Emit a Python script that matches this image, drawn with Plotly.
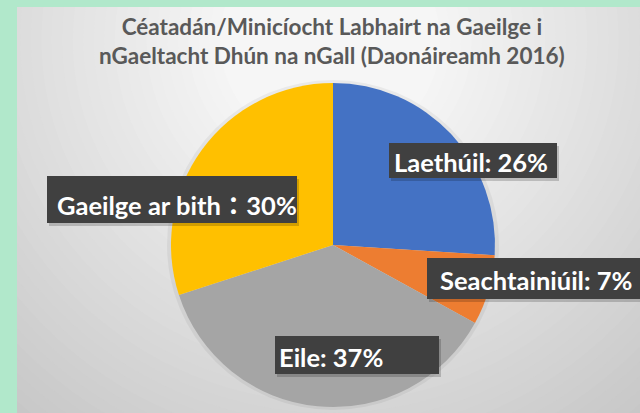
import plotly.graph_objects as go

# data
labels = ["Laethúil", "Seachtainiúil", "Eile", "Gaeilge ar bith"]
values = [26, 7, 37, 30]
colors = ["#4472C4", "#ED7D31", "#A5A5A5", "#FFC000"]
title_lines = ["Céatadán/Minicíocht Labhairt na Gaeilge i",
               "nGaeltacht Dhún na nGall (Daonáireamh 2016)"]

W, H = 640, 413
GREEN = "#B1E8CB"


def px(x):
    return min(x, W) / W


def py(y):
    return 1 - y / H


fig = go.Figure()
fig.add_trace(go.Pie(
    labels=labels,
    values=values,
    sort=False,
    direction="clockwise",
    rotation=0,
    marker=dict(colors=colors, line=dict(width=0)),
    textinfo="none",
    hoverinfo="skip",
    showlegend=False,
    domain=dict(x=[px(333 - 162), px(333 + 162)], y=[py(407), py(83)]),
))

shapes = []
# radial-ish grey panel background
cx, cy = 330, 40
n = 40
for i in range(n):
    t = i / (n - 1)
    r = 520 - (520 - 110) * t
    g = int(196 + (246 - 196) * t)
    shapes.append(dict(type="circle", xref="paper", yref="paper", layer="below",
                       x0=(cx - r) / W, x1=(cx + r) / W, y0=py(cy + r), y1=py(cy - r),
                       fillcolor=f"rgb({g},{g},{g})", line=dict(width=0)))
# green frame
shapes.append(dict(type="rect", xref="paper", yref="paper", layer="below",
                   x0=-0.1, x1=px(17), y0=-0.1, y1=1.1, fillcolor=GREEN, line=dict(width=0)))
shapes.append(dict(type="rect", xref="paper", yref="paper", layer="below",
                   x0=-0.1, x1=1.1, y0=py(7), y1=1.1, fillcolor=GREEN, line=dict(width=0)))
# soft shadow under the pie
shapes.append(dict(type="circle", xref="paper", yref="paper", layer="below",
                   x0=px(333 - 166), x1=px(333 + 166), y0=py(410), y1=py(80),
                   fillcolor="rgba(0,0,0,0.05)", line=dict(width=0)))

annotations = [dict(
    text="<br>".join(title_lines), x=px(332), y=py(41), xref="paper", yref="paper",
    showarrow=False, xanchor="center", yanchor="middle",
    font=dict(family="Lato", size=22.5, color="#595959", weight="bold"),
)]

# label boxes: (left, top, right, bottom) in pixels, plus text start x
label_boxes = [(389, 143, 557, 178), (427, 258, 640, 299), (275, 336, 439, 374), (47, 176, 297, 223)]
label_text_x = [392, 438, 277, 55]
label_text_y = [162, 280, 357, 205]

for lab, val, (x0, y0, x1, y1), tx, ty in zip(labels, values, label_boxes, label_text_x, label_text_y):
    shapes.append(dict(type="rect", xref="paper", yref="paper", layer="above",
                       x0=px(x0 + 2), x1=px(x1 + 2), y0=py(y1 + 3), y1=py(y0 + 3),
                       fillcolor="rgba(0,0,0,0.18)", line=dict(width=0)))
    shapes.append(dict(type="rect", xref="paper", yref="paper", layer="above",
                       x0=px(x0), x1=px(x1), y0=py(y1), y1=py(y0),
                       fillcolor="#404040", line=dict(width=0)))
    sep = "：" if lab == "Gaeilge ar bith" else ": "
    annotations.append(dict(
        text=f"{lab}{sep}{val}%", x=px(tx), y=py(ty), xref="paper", yref="paper",
        showarrow=False, xanchor="left", yanchor="middle",
        font=dict(family="Lato, 'Noto Sans CJK JP'", size=25.5, color="white", weight="bold"),
    ))

fig.update_layout(
    width=W, height=H,
    margin=dict(l=0, r=0, t=0, b=0),
    paper_bgcolor="#C6C6C6",
    shapes=shapes,
    annotations=annotations,
)

fig.write_html("out.html", config={"displayModeBar": False},
               post_script="document.body.style.margin='0';document.body.style.overflow='hidden';")
